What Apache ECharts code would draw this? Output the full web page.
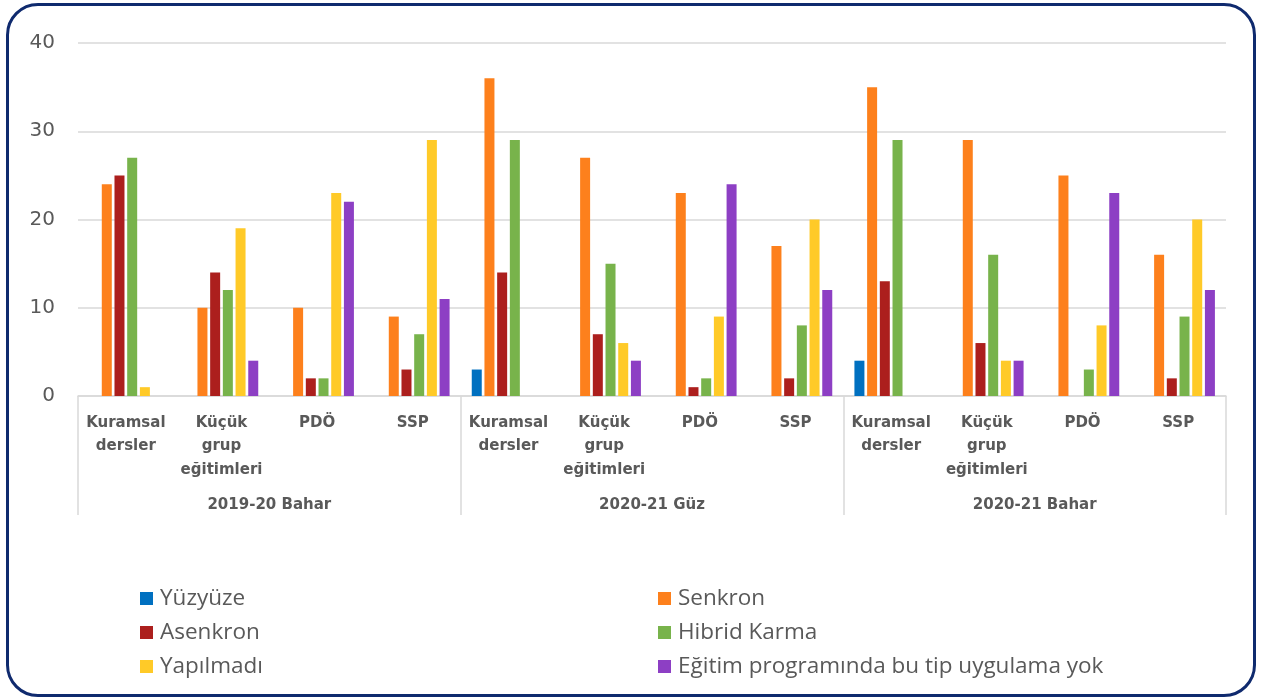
<!DOCTYPE html>
<html>
<head>
<meta charset="utf-8">
<script src="https://cdn.jsdelivr.net/npm/echarts@6/dist/echarts.min.js"></script>
<style>
html,body{margin:0;padding:0;background:#fff;}
#frame{position:absolute;left:6px;top:3px;width:1244px;height:688px;border:3px solid #0f2a6e;border-radius:32px;}
#chart{position:absolute;left:0;top:0;width:1262px;height:700px;}
</style>
</head>
<body>
<div id="frame"></div>
<div id="chart"></div>
<script>
const groups = ['2019-20 Bahar', '2020-21 Güz', '2020-21 Bahar'];
const subCategories = ['Kuramsal\ndersler', 'Küçük\ngrup\neğitimleri', 'PDÖ', 'SSP'];
const categories = [].concat(subCategories, subCategories, subCategories);
const seriesNames = ['Yüzyüze', 'Senkron', 'Asenkron', 'Hibrid Karma', 'Yapılmadı', 'Eğitim programında bu tip uygulama yok'];
const yuzyuze   = [0, 0, 0, 0,   3, 0, 0, 0,   4, 0, 0, 0];
const senkron   = [24, 10, 10, 9,   36, 27, 23, 17,   35, 29, 25, 16];
const asenkron  = [25, 14, 2, 3,   14, 7, 1, 2,   13, 6, 0, 2];
const hibrid    = [27, 12, 2, 7,   29, 15, 2, 8,   29, 16, 3, 9];
const yapilmadi = [1, 19, 23, 29,   0, 6, 9, 20,   0, 4, 8, 20];
const egitim    = [0, 4, 22, 11,   0, 4, 24, 12,   0, 4, 23, 12];
const yTicks = [0, 10, 20, 30, 40];

const seriesData = [yuzyuze, senkron, asenkron, hibrid, yapilmadi, egitim];
const colors = ['#0070c0', '#fd801c', '#ac1f1d', '#78b34b', '#ffca28', '#8d3fc4'];

const chart = echarts.init(document.getElementById('chart'), null, {renderer: 'canvas'});
const labelFont = '"DejaVu Sans", sans-serif';
const legendFont = '"Open Sans", sans-serif';
const option = {
  animation: false,
  color: colors,
  grid: {left: 78, right: 36, top: 43, bottom: 304, containLabel: false},
  xAxis: [
    {
      type: 'category', data: categories, position: 'bottom',
      axisLine: {show: true, lineStyle: {color: '#d9d9d9', width: 1.5}},
      axisTick: {show: false},
      axisLabel: {interval: 0, margin: 15, color: '#595959', fontWeight: 'bold', fontSize: 15, lineHeight: 23.5, fontFamily: labelFont, align: 'center'}
    },
    {
      type: 'category', data: groups, position: 'bottom',
      axisLine: {show: false},
      axisTick: {show: true, interval: 0, length: 119, lineStyle: {color: '#d9d9d9', width: 1.5}},
      axisLabel: {interval: 0, margin: 102, color: '#595959', fontWeight: 'bold', fontSize: 15, fontFamily: labelFont},
      splitLine: {show: false}
    }
  ],
  yAxis: {
    type: 'value', min: yTicks[0], max: yTicks[yTicks.length - 1], interval: 10,
    axisLine: {show: false}, axisTick: {show: false},
    axisLabel: {color: '#595959', fontSize: 20, margin: 23, fontFamily: '"DejaVu Sans", sans-serif'},
    splitLine: {lineStyle: {color: '#d9d9d9', width: 1.5}}
  },
  legend: [
    {
      data: [seriesNames[0], seriesNames[2], seriesNames[4]],
      orient: 'vertical', left: 135, top: 582, itemGap: 11,
      itemWidth: 13, itemHeight: 13, icon: 'rect',
      textStyle: {color: '#595959', fontSize: 22.5, fontFamily: legendFont, padding: [0, 0, 0, 2]}
    },
    {
      data: [seriesNames[1], seriesNames[3], seriesNames[5]],
      orient: 'vertical', left: 653, top: 582, itemGap: 11,
      itemWidth: 13, itemHeight: 13, icon: 'rect',
      textStyle: {color: '#595959', fontSize: 22.5, fontFamily: legendFont, padding: [0, 0, 0, 2]}
    }
  ],
  series: seriesNames.map((name, i) => ({
    name: name, type: 'bar', xAxisIndex: 0, data: seriesData[i],
    barWidth: 10, barGap: '27%',
    itemStyle: {color: colors[i]}
  }))
};
chart.setOption(option);
</script>
</body>
</html>
